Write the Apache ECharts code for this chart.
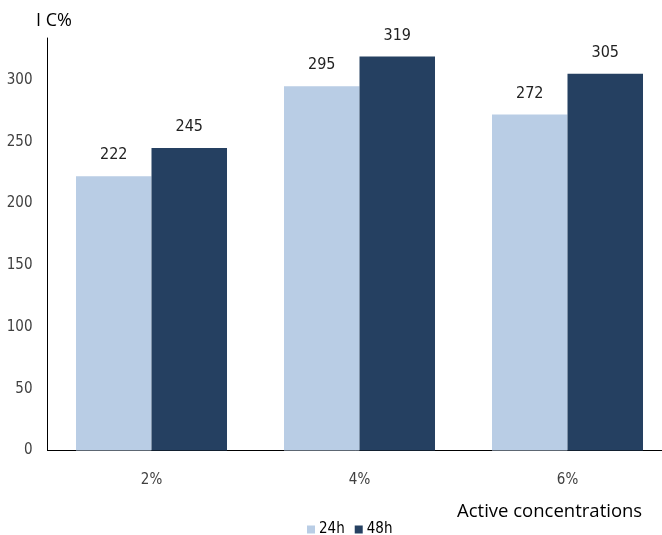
<!DOCTYPE html>
<html><head><meta charset="utf-8">
<script src="https://cdn.jsdelivr.net/npm/echarts@6/dist/echarts.min.js"></script>
<style>html,body{margin:0;padding:0;background:#fff}#c{width:662px;height:535px}</style>
</head><body><div id="c"></div>
<script>
const categories = ['2%', '4%', '6%'];
const series24h = [222, 295, 272];
const series48h = [245, 319, 305];
const seriesNames = ['24h', '48h'];
const yTicks = [0, 50, 100, 150, 200, 250, 300];

const narrow = '"Liberation Sans Narrow", "DejaVu Sans Condensed", "Roboto Condensed", sans-serif';
const chart = echarts.init(document.getElementById('c'), null, {renderer: 'canvas'});
chart.setOption({
  animation: false,
  title: [
    {text: 'I C%', left: 31, top: 7, textStyle: {fontFamily: '"Open Sans", sans-serif', fontSize: 18, fontWeight: 'normal', color: '#000'}},
    {text: 'Active concentrations', left: 452, top: 497, textStyle: {fontFamily: '"Open Sans", sans-serif', fontSize: 18.5, fontWeight: 'normal', color: '#000'}}
  ],
  legend: {
    data: seriesNames, left: 302, top: 517, itemWidth: 8, itemHeight: 8, itemGap: 10,
    icon: 'rect', textStyle: {fontFamily: narrow, fontSize: 15, color: '#000', padding: [0,0,0,-1]}
  },
  grid: {left: 47.5, top: 38, width: 624, height: 412.5, outerBoundsMode: 'none', containLabel: false},
  xAxis: {
    type: 'category', data: categories,
    axisLine: {lineStyle: {color: '#000', width: 1}},
    axisTick: {show: false},
    axisLabel: {fontFamily: narrow, fontSize: 15, color: '#404040', margin: 22}
  },
  yAxis: {
    type: 'value', min: 0, max: 334, interval: 50,
    splitLine: {show: false},
    axisLine: {show: true, lineStyle: {color: '#000', width: 1}},
    axisTick: {show: false},
    axisLabel: {fontFamily: narrow, fontSize: 15, color: '#404040', margin: 15,
      formatter: v => yTicks.includes(v) ? String(v) : ''}
  },
  series: [
    {name: seriesNames[0], type: 'bar', data: series24h, barGap: '0%', barCategoryGap: '27.4%',
     itemStyle: {color: '#B9CDE5'},
     label: {show: true, position: 'top', distance: 13, fontFamily: narrow, fontSize: 16, color: '#222'}},
    {name: seriesNames[1], type: 'bar', data: series48h, barGap: '0%', barCategoryGap: '27.4%',
     itemStyle: {color: '#254061'},
     label: {show: true, position: 'top', distance: 13, fontFamily: narrow, fontSize: 16, color: '#222'}}
  ]
});
</script></body></html>
